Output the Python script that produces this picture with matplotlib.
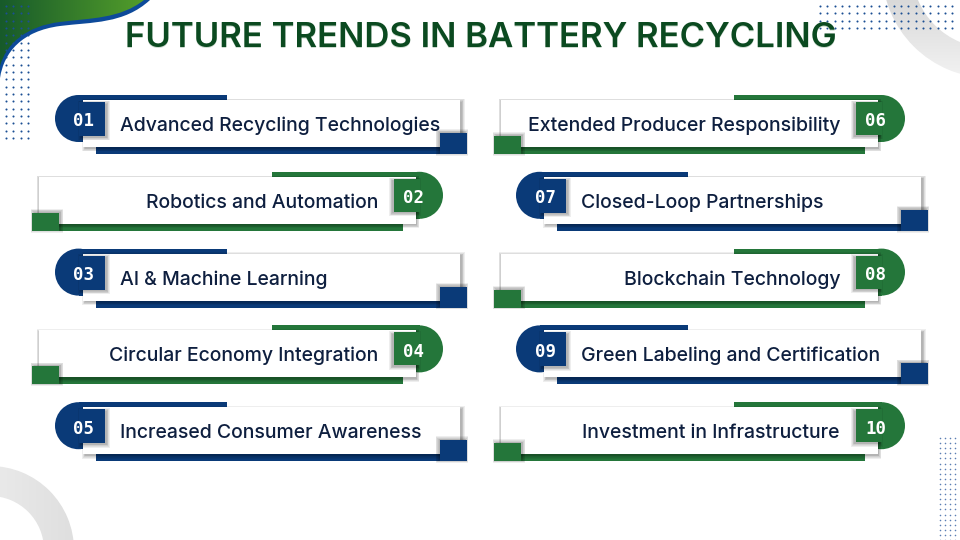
import numpy as np
import matplotlib
matplotlib.use("Agg")
import matplotlib.pyplot as plt
from matplotlib.patches import Rectangle, Circle, Wedge, PathPatch
from matplotlib.path import Path
from matplotlib.colors import LinearSegmentedColormap

# -------------------------------
# DATA
# -------------------------------
title = "FUTURE TRENDS IN BATTERY RECYCLING"
numbers = ["01", "02", "03", "04", "05", "06", "07", "08", "09", "10"]
labels = [
    "Advanced Recycling Technologies",
    "Robotics and Automation",
    "AI & Machine Learning",
    "Circular Economy Integration",
    "Increased Consumer Awareness",
    "Extended Producer Responsibility",
    "Closed-Loop Partnerships",
    "Blockchain Technology",
    "Green Labeling and Certification",
    "Investment in Infrastructure",
]

# -------------------------------
# STYLE
# -------------------------------
BLUE = "#0a3a78"
GREEN = "#24763a"
NAVY = "#0e1f3f"
TITLE_GREEN = "#0b4a20"
W, H = 377, 47
ROW0, ROWSTEP = 100, 76.8

fig = plt.figure(figsize=(9.6, 5.4), dpi=100)
ax = fig.add_axes([0, 0, 1, 1])
ax.set_xlim(0, 960)
ax.set_ylim(540, 0)
ax.axis("off")


def gradient_fill(patch, c1, c2, extent, horizontal=True, z=1):
    ax.add_patch(patch)
    patch.set_facecolor("none")
    patch.set_edgecolor("none")
    g = np.linspace(0, 1, 256)
    arr = np.tile(g, (256, 1)) if horizontal else np.tile(g[:, None], (1, 256))
    cmap = LinearSegmentedColormap.from_list("g", [c1, c2])
    im = ax.imshow(arr, extent=extent, cmap=cmap, origin="upper",
                   aspect="auto", zorder=z, interpolation="bilinear")
    im.set_clip_path(patch)


# -------------------------------
# DECORATIONS
# -------------------------------
# grey rings
ring_tr = Wedge((990, -30), 108, 0, 360, width=30)
gradient_fill(ring_tr, "#d9d9d9", "#f3f3f3", (880, 960, 80, 0), horizontal=False, z=0.5)
ring_bl = Wedge((-10, 550), 84, 0, 360, width=30)
gradient_fill(ring_bl, "#e9e9e9", "#dedede", (0, 80, 540, 460), horizontal=True, z=0.5)

# blue wave + green blob top-left
blue_v = [(0, 0), (150, 0), (124, 24), (92, 22), (60, 26),
          (22, 31), (4, 52), (0, 78), (0, 0)]
blue_c = [Path.MOVETO, Path.LINETO, Path.CURVE4, Path.CURVE4, Path.CURVE4,
          Path.CURVE4, Path.CURVE4, Path.CURVE4, Path.CLOSEPOLY]
ax.add_patch(PathPatch(Path(blue_v, blue_c), fc="#0d4a9a", ec="none", zorder=1))
green_v = [(0, 0), (144, 0), (120, 19), (90, 18), (60, 22),
           (26, 26), (6, 44), (0, 66), (0, 0)]
green = PathPatch(Path(green_v, blue_c))
gradient_fill(green, "#175a2a", "#55a02a", (0, 150, 80, 0), horizontal=True, z=1.5)

# dot grids
gx, gy = np.meshgrid(6 + 7.33 * np.arange(4), 6 + 7.33 * np.arange(19))
ax.scatter(gx.ravel(), gy.ravel(), s=2.2, color="#1b4f93", lw=0, zorder=2)
gx, gy = np.meshgrid(820 + 7.35 * np.arange(19), 6 + 7.33 * np.arange(4))
ax.scatter(gx.ravel(), gy.ravel(), s=2.2, color="#1b4f93", lw=0, zorder=2)
gx, gy = np.meshgrid(940 + 5 * np.arange(4), 438 + 5.1 * np.arange(21))
ax.scatter(gx.ravel(), gy.ravel(), s=1.3, color="#5b7fb3", lw=0, zorder=2)

# -------------------------------
# TITLE
# -------------------------------
ax.text(481.3, 48, title, ha="center", va="baseline", fontsize=25,
        fontweight="semibold", family="Inter", color="#cddbd0", zorder=3)
ax.text(480.5, 47, title, ha="center", va="baseline", fontsize=25,
        fontweight="semibold", family="Inter", color=TITLE_GREEN, zorder=4)


# -------------------------------
# ITEMS
# -------------------------------
def shadow(x, y, w, h, z, dx=2.0, dy=1.5):
    for k in range(5):
        ax.add_patch(Rectangle((x + dx - k * 0.7, y + dy - k * 0.7),
                               w + k * 1.4, h + k * 1.4, fc="#000000",
                               alpha=0.065, ec="none", zorder=z))


def blue_item(L, T, num, label):
    ax.add_patch(Rectangle((L + 13, T + 40), 371, 14, fc=BLUE, ec="none", zorder=5))
    ax.add_patch(Rectangle((L - 4.5, T - 5), 148.5, 47, fc=BLUE, ec="none", zorder=6))
    ax.add_patch(Circle((L - 4.5, T + 18.5), 23.5, fc=BLUE, ec="none", zorder=6))
    shadow(L, T, W, H, 7)
    ax.add_patch(Rectangle((L, T), W, H, fc="white", ec="none", zorder=8))
    shadow(L - 4, T + 2, 26, 34, 9)
    ax.add_patch(Rectangle((L - 4, T + 2), 26, 34, fc=BLUE, ec="none", zorder=10))
    shadow(L + 357, T + 33, 27, 21, 9, dx=-1.5, dy=-1)
    ax.add_patch(Rectangle((L + 357, T + 33), 27, 21, fc=BLUE, ec="none", zorder=10))
    ax.text(L + 1, T + 26.5, num, ha="center", va="baseline", fontsize=12.5,
            fontweight="bold", family="DejaVu Sans Mono", color="white", zorder=11)
    ax.text(L + 37, T + 31, label, ha="left", va="baseline", fontsize=14,
            fontweight="medium", family="Inter", color=NAVY, zorder=11)


def green_item(L, T, num, label):
    R = L + W
    ax.add_patch(Rectangle((L - 7, T + 40), R - 13 - (L - 7), 14, fc=GREEN, ec="none", zorder=5))
    ax.add_patch(Rectangle((R - 144, T - 5), 147.5, 47, fc=GREEN, ec="none", zorder=6))
    ax.add_patch(Circle((R + 3.5, T + 18.5), 23.5, fc=GREEN, ec="none", zorder=6))
    shadow(L, T, W, H, 7, dx=0.5)
    ax.add_patch(Rectangle((L, T), W, H, fc="white", ec="none", zorder=8))
    shadow(R - 22, T + 2, 26, 33, 9, dx=-2)
    ax.add_patch(Rectangle((R - 22, T + 2), 26, 33, fc=GREEN, ec="none", zorder=10))
    shadow(L - 7, T + 36, 27, 18, 9, dx=1.5, dy=-1)
    ax.add_patch(Rectangle((L - 7, T + 36), 27, 18, fc=GREEN, ec="none", zorder=10))
    ax.text(R - 2, T + 26.5, num, ha="center", va="baseline", fontsize=12.5,
            fontweight="bold", family="DejaVu Sans Mono", color="white", zorder=11)
    ax.text(R - 38, T + 31, label, ha="right", va="baseline", fontsize=14,
            fontweight="medium", family="Inter", color=NAVY, zorder=11)


for i, (num, label) in enumerate(zip(numbers, labels)):
    col, row = divmod(i, 5)
    T = ROW0 + ROWSTEP * row
    is_blue = (row + col) % 2 == 0
    if is_blue:
        blue_item(83 + 461 * col, T, num, label)
    else:
        green_item(39 + 462 * col, T, num, label)

fig.savefig("out.png", dpi=100)
